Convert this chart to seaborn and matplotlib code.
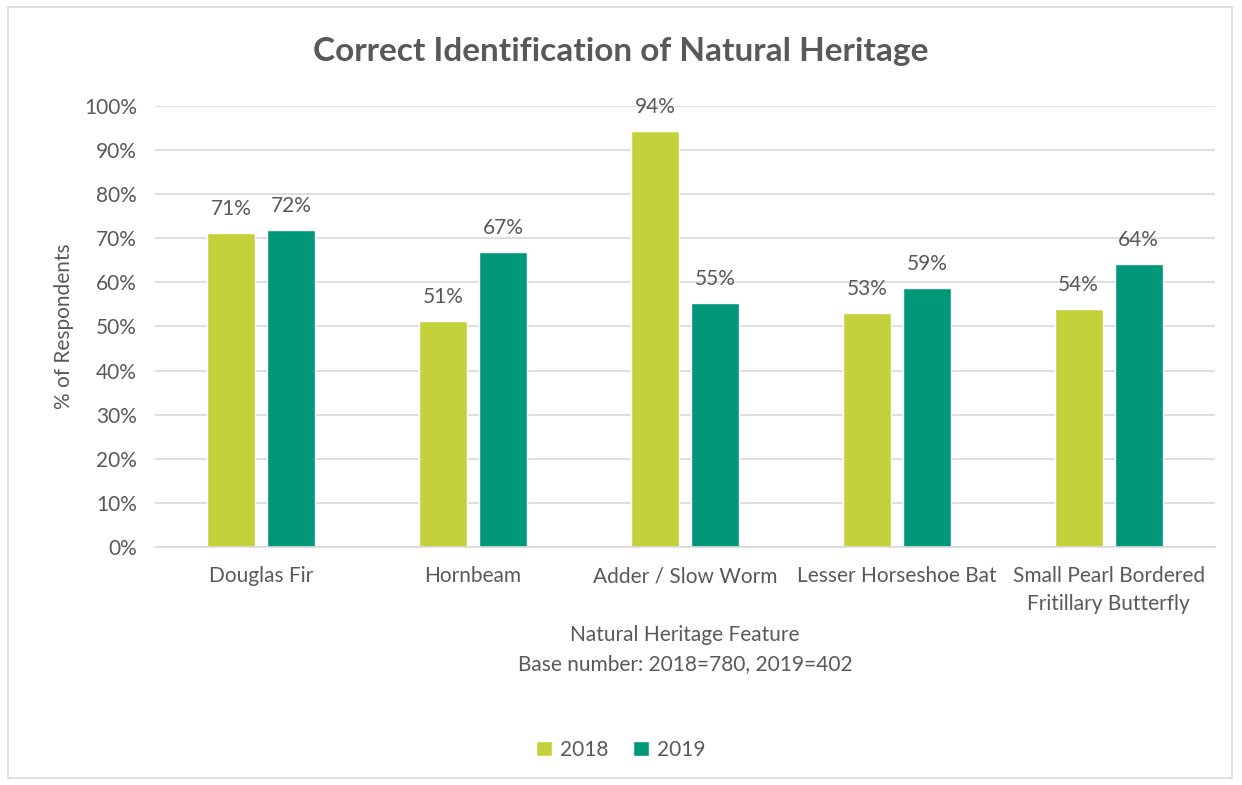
import matplotlib
matplotlib.use("Agg")
import matplotlib.pyplot as plt
import seaborn as sns
import pandas as pd
from matplotlib.patches import Rectangle

categories = ["Douglas Fir", "Hornbeam", "Adder / Slow Worm",
              "Lesser Horseshoe Bat", "Small Pearl Bordered\nFritillary Butterfly"]
values_2018 = [71.2, 51.3, 94.3, 53.1, 54.0]
values_2019 = [71.9, 66.9, 55.4, 58.7, 64.2]
years = ["2018", "2019"]
colors = {"2018": "#C3D13B", "2019": "#009878"}

rows = []
for c, a, b in zip(categories, values_2018, values_2019):
    rows.append({"Feature": c, "Year": "2018", "Value": a})
    rows.append({"Feature": c, "Year": "2019", "Value": b})
df = pd.DataFrame(rows)

sns.set_theme(style="white")
plt.rcParams['font.family'] = ['Lato', 'DejaVu Sans']
txt = "#595959"
fs = 15

fig = plt.figure(figsize=(12.42, 7.85), dpi=100)
ax = fig.add_axes([0.1248, 0.3032, 0.8532, 0.5618])
sns.barplot(data=df, x="Feature", y="Value", hue="Year", hue_order=years,
            palette=colors, width=0.566, gap=0.2, ax=ax, saturation=1,
            order=categories)

ax.set_ylim(0, 100)
ax.set_yticks(range(0, 101, 10))
ax.set_yticklabels([f"{v}%" for v in range(0, 101, 10)], fontsize=fs, color=txt)
ax.tick_params(axis='x', labelsize=fs, colors=txt, length=0, pad=14)
ax.tick_params(axis='y', length=0, pad=13)
for lab in ax.get_xticklabels():
    lab.set_linespacing(1.45)
ax.grid(axis='y', color="#d9d9d9", linewidth=1.2)
ax.set_axisbelow(True)
for s in ["top", "right", "left"]:
    ax.spines[s].set_visible(False)
ax.spines["bottom"].set_color("#d9d9d9")
ax.spines["bottom"].set_linewidth(1.2)

for cont in ax.containers:
    labels = [f"{round(v.get_height())}%" for v in cont]
    ax.bar_label(cont, labels=labels, padding=10, fontsize=fs, color=txt)

ax.set_ylabel("% of Respondents", fontsize=fs, color=txt, labelpad=7)
ax.set_xlabel("Natural Heritage Feature\nBase number: 2018=780, 2019=402",
              fontsize=fs, color=txt, labelpad=8, linespacing=1.6)

fig.text(0.5, 1 - 52/785, "Correct Identification of Natural Heritage",
         fontsize=24, fontweight="bold", color=txt, ha="center", va="center")

leg = ax.legend(loc="center", bbox_to_anchor=(0.5, 1 - 750/785),
                bbox_transform=fig.transFigure,
                ncol=2, frameon=False, fontsize=fs, handlelength=0.75, handleheight=0.75,
                columnspacing=1.2, handletextpad=0.4)
for t in leg.get_texts():
    t.set_color(txt)

fig.patches.append(Rectangle((8/1242, 7/785), 1 - 18/1242, 1 - 14/785,
                             transform=fig.transFigure, fill=False,
                             edgecolor="#d9d9d9", linewidth=1.2))

fig.savefig("out.png", dpi=100, facecolor="white")
